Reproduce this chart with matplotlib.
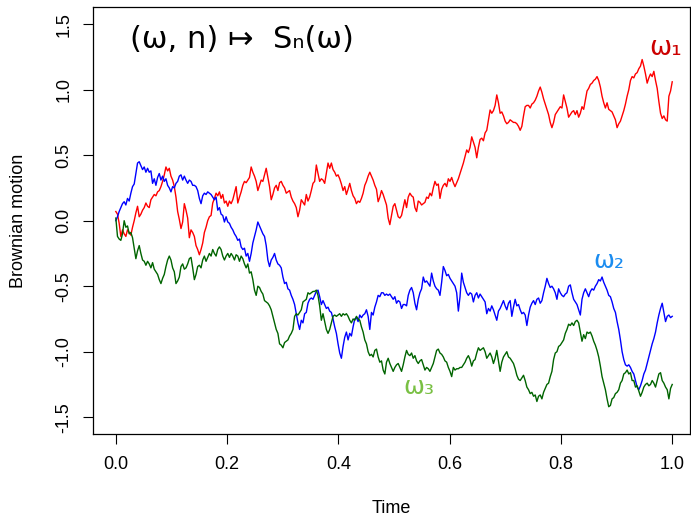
import matplotlib
matplotlib.use("Agg")
import matplotlib.pyplot as plt
import numpy as np

# three sample paths, on an even time grid from 0 to 1
red_path = [
    0.07, 0.05, -0.02, -0.12, -0.07, -0.10, -0.12, -0.07, -0.09, -0.11,
    -0.05, 0.00, 0.06, 0.11, 0.03, 0.05, 0.08, 0.10, 0.135, 0.11,
    0.10, 0.16, 0.18, 0.20, 0.19, 0.22, 0.23, 0.26, 0.30, 0.35,
    0.41, 0.38, 0.40, 0.34, 0.31, 0.26, 0.18, 0.07, 0.01, -0.06,
    -0.01, 0.13, 0.08, 0.02, -0.13, -0.07, -0.09, -0.12, -0.19, -0.22,
    -0.26, -0.22, -0.17, -0.09, -0.05, 0.00, 0.03, 0.04, 0.135, 0.17,
    0.21, 0.19, 0.22, 0.17, 0.20, 0.135, 0.15, 0.11, 0.15, 0.13,
    0.16, 0.21, 0.26, 0.135, 0.18, 0.22, 0.27, 0.30, 0.29, 0.31,
    0.33, 0.41, 0.37, 0.34, 0.30, 0.23, 0.27, 0.31, 0.30, 0.35,
    0.40, 0.33, 0.26, 0.16, 0.20, 0.25, 0.27, 0.23, 0.29, 0.30,
    0.27, 0.25, 0.21, 0.22, 0.23, 0.18, 0.15, 0.13, 0.10, 0.03,
    0.08, 0.16, 0.14, 0.12, 0.20, 0.15, 0.18, 0.23, 0.285, 0.30,
    0.425, 0.36, 0.30, 0.32, 0.31, 0.285, 0.36, 0.44, 0.40, 0.44,
    0.39, 0.37, 0.34, 0.35, 0.32, 0.28, 0.23, 0.26, 0.20, 0.24,
    0.285, 0.23, 0.19, 0.17, 0.13, 0.15, 0.14, 0.17, 0.21, 0.27,
    0.30, 0.34, 0.37, 0.34, 0.31, 0.27, 0.24, 0.145, 0.18, 0.23,
    0.20, 0.16, 0.12, 0.02, -0.03, 0.04, 0.11, 0.13, 0.08, 0.03,
    0.02, 0.04, 0.10, 0.16, 0.10, 0.18, 0.21, 0.19, 0.18, 0.10,
    0.07, 0.15, 0.14, 0.12, 0.13, 0.14, 0.18, 0.17, 0.21, 0.19,
    0.25, 0.30, 0.27, 0.28, 0.17, 0.24, 0.27, 0.285, 0.26, 0.32,
    0.30, 0.33, 0.29, 0.26, 0.29, 0.32, 0.36, 0.40, 0.44, 0.49,
    0.54, 0.52, 0.56, 0.64, 0.60, 0.56, 0.48, 0.56, 0.62, 0.63,
    0.61, 0.67, 0.69, 0.77, 0.845, 0.82, 0.84, 0.88, 0.96, 0.90,
    0.82, 0.83, 0.80, 0.76, 0.74, 0.75, 0.77, 0.76, 0.75, 0.75,
    0.74, 0.72, 0.69, 0.72, 0.80, 0.87, 0.88, 0.88, 0.86, 0.89,
    0.90, 0.92, 0.95, 0.99, 1.02, 0.98, 0.93, 0.89, 0.85, 0.81,
    0.75, 0.71, 0.75, 0.81, 0.83, 0.85, 0.87, 0.86, 0.96, 0.91,
    0.86, 0.79, 0.81, 0.83, 0.84, 0.81, 0.84, 0.79, 0.82, 0.87,
    0.85, 0.92, 0.99, 1.01, 1.04, 1.05, 1.07, 1.08, 1.10, 1.07,
    1.02, 0.95, 0.90, 0.86, 0.90, 0.85, 0.84, 0.83, 0.80, 0.77,
    0.71, 0.74, 0.76, 0.80, 0.84, 0.89, 0.95, 1.00, 1.07, 1.10,
    1.09, 1.12, 1.13, 1.16, 1.18, 1.23, 1.18, 1.12, 1.05, 1.09,
    1.12, 1.10, 1.14, 1.07, 1.01, 0.91, 0.82, 0.78, 0.80, 0.77,
    0.76, 0.95, 0.99, 1.06,
]

blue_path = [
    0.00, 0.03, 0.07, 0.10, 0.13, 0.145, 0.12, 0.17, 0.15, 0.21,
    0.26, 0.28, 0.36, 0.44, 0.45, 0.42, 0.39, 0.41, 0.37, 0.40,
    0.37, 0.38, 0.285, 0.32, 0.27, 0.33, 0.36, 0.31, 0.34, 0.30,
    0.32, 0.27, 0.25, 0.22, 0.26, 0.25, 0.285, 0.30, 0.34, 0.35,
    0.31, 0.34, 0.31, 0.285, 0.31, 0.30, 0.27, 0.27, 0.26, 0.23,
    0.17, 0.13, 0.19, 0.21, 0.20, 0.22, 0.21, 0.20, 0.18, 0.16,
    0.18, 0.08, 0.10, 0.05, 0.04, -0.01, 0.03, -0.01, -0.02, -0.05,
    -0.07, -0.10, -0.12, -0.15, -0.14, -0.20, -0.22, -0.21, -0.27, -0.25,
    -0.31, -0.25, -0.17, -0.12, -0.07, -0.01, -0.04, -0.07, -0.10, -0.12,
    -0.19, -0.30, -0.35, -0.30, -0.28, -0.25, -0.30, -0.33, -0.34, -0.36,
    -0.43, -0.48, -0.47, -0.52, -0.53, -0.57, -0.60, -0.64, -0.71, -0.78,
    -0.83, -0.76, -0.78, -0.71, -0.70, -0.63, -0.60, -0.59, -0.60, -0.57,
    -0.54, -0.53, -0.58, -0.64, -0.61, -0.64, -0.67, -0.66, -0.69, -0.70,
    -0.75, -0.81, -0.86, -0.94, -1.01, -1.05, -0.96, -0.89, -0.85, -0.91,
    -0.86, -0.88, -0.81, -0.75, -0.74, -0.77, -0.72, -0.74, -0.72, -0.71,
    -0.68, -0.73, -0.83, -0.70, -0.72, -0.66, -0.62, -0.57, -0.58, -0.55,
    -0.55, -0.57, -0.56, -0.57, -0.56, -0.58, -0.60, -0.58, -0.63, -0.61,
    -0.62, -0.67, -0.64, -0.64, -0.65, -0.57, -0.53, -0.51, -0.55, -0.63,
    -0.68, -0.60, -0.55, -0.52, -0.43, -0.47, -0.46, -0.48, -0.50, -0.40,
    -0.46, -0.50, -0.52, -0.53, -0.57, -0.47, -0.35, -0.38, -0.42, -0.41,
    -0.44, -0.46, -0.48, -0.50, -0.55, -0.69, -0.58, -0.40, -0.47, -0.51,
    -0.55, -0.57, -0.55, -0.56, -0.62, -0.57, -0.55, -0.59, -0.56, -0.58,
    -0.60, -0.62, -0.71, -0.67, -0.69, -0.65, -0.68, -0.72, -0.76, -0.69,
    -0.67, -0.64, -0.61, -0.65, -0.68, -0.63, -0.61, -0.73, -0.66, -0.60,
    -0.65, -0.64, -0.68, -0.71, -0.70, -0.72, -0.80, -0.72, -0.66, -0.63,
    -0.61, -0.64, -0.60, -0.59, -0.63, -0.61, -0.55, -0.50, -0.44, -0.48,
    -0.51, -0.50, -0.52, -0.55, -0.60, -0.52, -0.55, -0.57, -0.58, -0.56,
    -0.55, -0.50, -0.49, -0.55, -0.60, -0.62, -0.64, -0.68, -0.72, -0.60,
    -0.55, -0.52, -0.55, -0.58, -0.54, -0.52, -0.53, -0.50, -0.48, -0.45,
    -0.46, -0.43, -0.47, -0.50, -0.53, -0.57, -0.58, -0.62, -0.67, -0.70,
    -0.77, -0.83, -0.91, -1.00, -1.06, -1.10, -1.11, -1.10, -1.12, -1.15,
    -1.17, -1.22, -1.27, -1.29, -1.26, -1.22, -1.17, -1.14, -1.09, -1.04,
    -0.99, -0.94, -0.90, -0.85, -0.78, -0.72, -0.67, -0.63, -0.70, -0.77,
    -0.73, -0.72, -0.74, -0.73,
]

green_path = [
    0.02, -0.12, -0.14, -0.15, -0.10, 0.00, -0.05, -0.04, -0.10, -0.09,
    -0.13, -0.21, -0.29, -0.23, -0.19, -0.25, -0.30, -0.31, -0.34, -0.31,
    -0.33, -0.36, -0.32, -0.37, -0.39, -0.41, -0.45, -0.48, -0.44, -0.41,
    -0.35, -0.30, -0.27, -0.30, -0.36, -0.39, -0.48, -0.46, -0.43, -0.35,
    -0.33, -0.37, -0.36, -0.33, -0.29, -0.28, -0.36, -0.45, -0.41, -0.35,
    -0.34, -0.36, -0.30, -0.27, -0.31, -0.28, -0.25, -0.27, -0.22, -0.25,
    -0.27, -0.22, -0.20, -0.22, -0.27, -0.30, -0.27, -0.25, -0.28, -0.25,
    -0.27, -0.30, -0.26, -0.27, -0.31, -0.27, -0.29, -0.33, -0.36, -0.33,
    -0.40, -0.39, -0.45, -0.53, -0.57, -0.50, -0.51, -0.54, -0.56, -0.61,
    -0.62, -0.63, -0.65, -0.68, -0.73, -0.78, -0.83, -0.86, -0.94, -0.95,
    -0.97, -0.93, -0.92, -0.91, -0.88, -0.86, -0.83, -0.73, -0.71, -0.72,
    -0.70, -0.68, -0.62, -0.61, -0.60, -0.55, -0.56, -0.55, -0.54, -0.54,
    -0.53, -0.57, -0.65, -0.76, -0.71, -0.77, -0.83, -0.86, -0.83, -0.78,
    -0.73, -0.72, -0.73, -0.72, -0.71, -0.73, -0.71, -0.72, -0.71, -0.73,
    -0.76, -0.78, -0.75, -0.76, -0.73, -0.75, -0.76, -0.81, -0.85, -0.91,
    -0.94, -1.00, -1.03, -1.02, -1.04, -0.99, -0.98, -1.04, -1.08, -1.07,
    -1.14, -1.17, -1.08, -1.05, -1.09, -1.12, -1.15, -1.12, -1.10, -1.09,
    -1.12, -1.15, -1.10, -1.04, -0.99, -1.02, -1.03, -1.01, -1.05, -1.03,
    -1.07, -1.09, -1.07, -1.06, -1.10, -1.14, -1.12, -1.13, -1.15, -1.12,
    -1.09, -1.04, -0.99, -0.98, -1.01, -1.02, -1.04, -1.07, -1.08, -1.12,
    -1.15, -1.19, -1.12, -1.14, -1.13, -1.13, -1.12, -1.12, -1.10, -1.08,
    -1.05, -1.03, -1.06, -1.11, -1.07, -1.06, -1.01, -0.97, -0.99, -0.98,
    -0.97, -1.00, -1.05, -1.03, -1.01, -1.04, -1.09, -1.05, -0.99, -1.07,
    -1.15, -1.08, -1.04, -1.02, -1.00, -1.04, -1.05, -1.07, -1.09, -1.13,
    -1.18, -1.21, -1.22, -1.20, -1.18, -1.22, -1.27, -1.29, -1.32, -1.31,
    -1.34, -1.33, -1.38, -1.34, -1.33, -1.36, -1.31, -1.28, -1.25, -1.24,
    -1.19, -1.15, -1.06, -1.01, -1.00, -0.96, -0.95, -0.93, -0.91, -0.86,
    -0.83, -0.79, -0.80, -0.78, -0.80, -0.77, -0.76, -0.78, -0.85, -0.92,
    -0.87, -0.90, -0.85, -0.86, -0.85, -0.88, -0.92, -0.95, -0.99, -1.04,
    -1.11, -1.19, -1.24, -1.29, -1.36, -1.42, -1.41, -1.36, -1.35, -1.32,
    -1.31, -1.29, -1.24, -1.22, -1.17, -1.16, -1.14, -1.17, -1.16, -1.22,
    -1.22, -1.27, -1.26, -1.30, -1.34, -1.31, -1.27, -1.25, -1.24, -1.26,
    -1.25, -1.22, -1.24, -1.27, -1.22, -1.17, -1.16, -1.22, -1.24, -1.27,
    -1.29, -1.36, -1.28, -1.25,
]

time = np.linspace(0, 1, len(red_path))
x_ticks = [0.0, 0.2, 0.4, 0.6, 0.8, 1.0]
y_ticks = [-1.5, -1.0, -0.5, 0.0, 0.5, 1.0, 1.5]

plt.rcParams['font.family'] = ['Liberation Sans', 'DejaVu Sans']

fig = plt.figure(figsize=(6.91, 5.19), dpi=100)
ax = fig.add_axes([0.1346, 0.1638, 0.864, 0.8227])

ax.plot(time, red_path, color='#ff0000', lw=1.0)
ax.plot(time, blue_path, color='#0000ff', lw=1.0)
ax.plot(time, green_path, color='#006400', lw=1.0)

ax.set_xlim(-0.041, 1.032)
ax.set_ylim(-1.628, 1.631)
ax.set_xticks(x_ticks)
ax.set_xticklabels([f"{v:.1f}" for v in x_ticks])
ax.set_yticks(y_ticks)
ax.set_yticklabels([f"{v:.1f}" for v in y_ticks], rotation=90, va='center')
ax.tick_params(direction='out', length=7, width=0.8, labelsize=13, pad=9)
ax.tick_params(axis='y', pad=8)
for s in ax.spines.values():
    s.set_linewidth(0.9)

ax.set_xlabel("Time", fontsize=13, labelpad=19)
ax.set_ylabel("Brownian motion", fontsize=13, labelpad=20)

# hand-written notes
ax.text(0.025, 1.38, "(ω, n) ↦  Sₙ(ω)", fontsize=22, family='DejaVu Sans',
        color='black', va='center')
ax.text(0.958, 1.32, "ω₁", fontsize=19, family='DejaVu Sans',
        color='#cc0000', va='center')
ax.text(0.858, -0.31, "ω₂", fontsize=18, family='DejaVu Sans',
        color='#1a8cf0', va='center')
ax.text(0.516, -1.27, "ω₃", fontsize=18, family='DejaVu Sans',
        color='#79c043', va='center')

fig.savefig("out.png", dpi=100)
